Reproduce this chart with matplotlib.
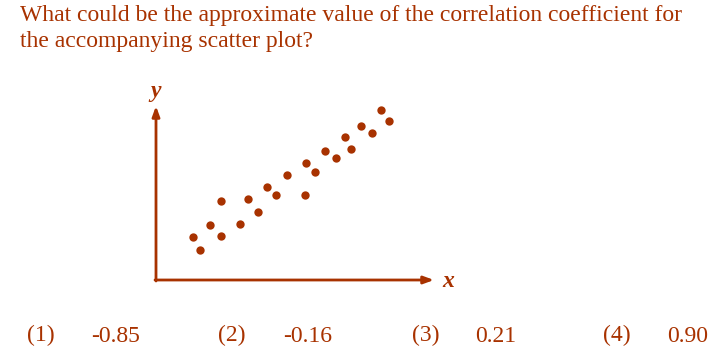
import matplotlib.pyplot as plt

# colour used for all text and marks
red = "#a83200"

# scatter data (arbitrary units, origin at axes corner)
x = [37, 44, 54, 65, 65, 84, 92, 102, 111, 120, 131, 149, 150, 159,
     169, 180, 189, 195, 205, 216, 225, 233]
y = [43, 30, 55, 79, 44, 56, 81, 68, 93, 85, 105, 85, 117, 108,
     129, 122, 143, 131, 154, 147, 170, 159]

question = ["What could be the approximate value of the correlation coefficient for",
            "the accompanying scatter plot?"]
option_nums = ["(1)", "(2)", "(3)", "(4)"]
option_vals = ["-0.85", "-0.16", "0.21", "0.90"]

W, H = 726, 358
fig = plt.figure(figsize=(W / 100, H / 100), dpi=100)
plt.rcParams["font.family"] = ["Liberation Serif", "DejaVu Serif"]
fs = 17

# axes where 1 data unit = 1 pixel
x0, y0 = 156, 280
xw, yh = 300, 200
ax = fig.add_axes([x0 / W, (H - y0) / H, xw / W, yh / H])
ax.set_xlim(0, xw)
ax.set_ylim(0, yh)
ax.axis("off")

ax.scatter(x, y, s=36, color=red, linewidths=0, zorder=3)

arrow = dict(arrowstyle="-|>,head_length=0.6,head_width=0.22", color=red,
             lw=2, shrinkA=0, shrinkB=0)
ax.annotate("", xy=(278, 0), xytext=(-1, 0), arrowprops=arrow)
ax.annotate("", xy=(0, 174), xytext=(0, -1), arrowprops=arrow)

fig.text(442 / W, 1 - 287 / H, "x", color=red, fontsize=fs, style="italic",
         fontweight="bold", va="baseline")
fig.text(150 / W, 1 - 97 / H, "y", color=red, fontsize=fs, style="italic",
         fontweight="bold", va="baseline")

# question text
fig.text(20 / W, 1 - 21 / H, question[0], color=red, fontsize=fs, va="baseline")
fig.text(20 / W, 1 - 46.7 / H, question[1], color=red, fontsize=fs, va="baseline")

# answer choices
num_x = [27, 218, 412, 603]
val_x = [91, 283, 475, 667]
for i in range(4):
    fig.text(num_x[i] / W, 1 - 341.5 / H, option_nums[i], color=red,
             fontsize=fs, va="baseline")
    fig.text(val_x[i] / W, 1 - 341.5 / H, option_vals[i], color=red,
             fontsize=fs, va="baseline")

fig.savefig("out.png", dpi=100)
